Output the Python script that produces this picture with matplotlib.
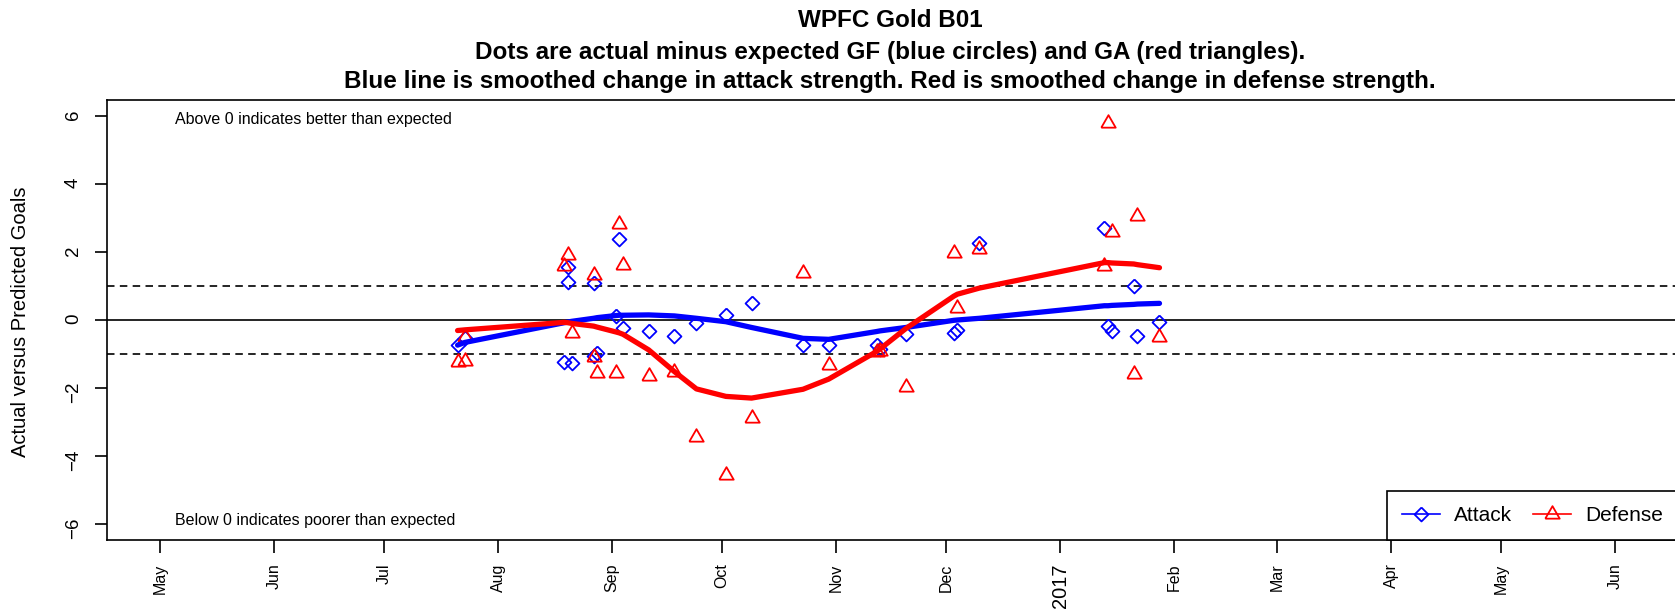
import datetime as dt

import matplotlib

matplotlib.use("Agg")
import matplotlib.dates as mdates
import matplotlib.pyplot as plt
from matplotlib.lines import Line2D

plt.rcParams["font.family"] = ["Liberation Sans", "DejaVu Sans"]

# ---- data ------------------------------------------------------------------
gf_dates = ["2016-07-21", "2016-07-23", "2016-08-19", "2016-08-20", "2016-08-20",
            "2016-08-21", "2016-08-27", "2016-08-27", "2016-08-28", "2016-09-02",
            "2016-09-03", "2016-09-04", "2016-09-11", "2016-09-18", "2016-09-24",
            "2016-10-02", "2016-10-09", "2016-10-23", "2016-10-30", "2016-11-12",
            "2016-11-13", "2016-11-20", "2016-12-03", "2016-12-04", "2016-12-10",
            "2017-01-13", "2017-01-14", "2017-01-15", "2017-01-21", "2017-01-22",
            "2017-01-28"]
gf_diff = [-0.75, -0.54, -1.25, 1.57, 1.13, -1.27, 1.10, -1.06, -0.96, 0.13,
           2.38, -0.25, -0.31, -0.46, -0.10, 0.15, 0.51, -0.75, -0.75, -0.74,
           -0.86, -0.42, -0.39, -0.29, 2.27, 2.71, -0.17, -0.31, 1.01, -0.46,
           -0.07]

ga_dates = ["2016-07-21", "2016-07-23", "2016-07-23", "2016-08-19", "2016-08-20",
            "2016-08-21", "2016-08-27", "2016-08-27", "2016-08-28", "2016-09-02",
            "2016-09-03", "2016-09-04", "2016-09-11", "2016-09-18", "2016-09-24",
            "2016-10-02", "2016-10-09", "2016-10-23", "2016-10-30", "2016-11-12",
            "2016-11-13", "2016-11-20", "2016-12-03", "2016-12-04", "2016-12-10",
            "2017-01-13", "2017-01-14", "2017-01-15", "2017-01-21", "2017-01-22",
            "2017-01-28"]
ga_diff = [-1.25, -1.21, -0.49, 1.60, 1.91, -0.37, 1.32, -1.08, -1.55, -1.57,
           2.84, 1.62, -1.64, -1.52, -3.46, -4.56, -2.89, 1.39, -1.34, -0.93,
           -0.90, -1.98, 1.98, 0.34, 2.08, 1.60, 5.80, 2.58, -1.59, 3.07,
           -0.49]

smooth_dates = ["2016-07-21", "2016-07-23", "2016-08-19", "2016-08-20", "2016-08-21",
                "2016-08-27", "2016-08-28", "2016-09-02", "2016-09-03", "2016-09-04",
                "2016-09-11", "2016-09-18", "2016-09-24", "2016-10-02", "2016-10-09",
                "2016-10-23", "2016-10-30", "2016-11-12", "2016-11-13", "2016-11-20",
                "2016-12-03", "2016-12-04", "2016-12-10", "2017-01-13", "2017-01-14",
                "2017-01-15", "2017-01-21", "2017-01-22", "2017-01-28"]
attack_smooth = [-0.74, -0.66, -0.08, -0.06, -0.04, 0.05, 0.07, 0.13, 0.14, 0.14,
                 0.15, 0.12, 0.05, -0.05, -0.22, -0.54, -0.57, -0.34, -0.32, -0.22,
                 -0.01, 0.00, 0.05, 0.42, 0.42, 0.43, 0.46, 0.47, 0.49]
defense_smooth = [-0.31, -0.29, -0.07, -0.08, -0.10, -0.18, -0.21, -0.35, -0.38, -0.42,
                  -0.88, -1.52, -2.03, -2.25, -2.30, -2.04, -1.74, -0.93, -0.85, -0.25,
                  0.70, 0.76, 0.94, 1.69, 1.69, 1.68, 1.65, 1.63, 1.54]

month_ticks = ["2016-05-01", "2016-06-01", "2016-07-01", "2016-08-01", "2016-09-01",
               "2016-10-01", "2016-11-01", "2016-12-01", "2017-01-01", "2017-02-01",
               "2017-03-01", "2017-04-01", "2017-05-01", "2017-06-01"]
month_labels = ["May", "Jun", "Jul", "Aug", "Sep", "Oct", "Nov", "Dec", "2017",
                "Feb", "Mar", "Apr", "May", "Jun"]
y_ticks = [-6, -4, -2, 0, 2, 4, 6]

title_lines = [
    "WPFC Gold B01",
    "Dots are actual minus expected GF (blue circles) and GA (red triangles).",
    "Blue line is smoothed change in attack strength. Red is smoothed change in defense strength.",
]


def _d(s):
    return dt.datetime.strptime(s, "%Y-%m-%d")


def _num(dates):
    return mdates.date2num([_d(s) for s in dates])


# R-style pch 5 / pch 2 outlines
diamond = [(0, 1), (1, 0), (0, -1), (-1, 0), (0, 1)]
triangle = [(-1, -0.577), (1, -0.577), (0, 1.155), (-1, -0.577)]

fig = plt.figure(figsize=(16.75, 6.16), dpi=100)
W, H = 1675, 616
# plot box runs just past the right edge of the picture, as in the original
ax = fig.add_axes([107 / W, 1 - 540 / H, (1678 - 107) / W, (540 - 100) / H])

x0, x1 = mdates.date2num(_d("2016-05-01")), mdates.date2num(_d("2017-06-01"))
ax.set_xlim(x0 - 14.4, x1 + 17.1)
ax.set_ylim(-6.48, 6.48)

ax.axhline(0, color="black", lw=1.2, zorder=1)
for yy in (1, -1):
    ax.axhline(yy, color="black", lw=1.2, ls=(0, (4.5, 3.2)), zorder=1)

ax.plot(_num(gf_dates), gf_diff, ls="none", marker=diamond, ms=10,
        mfc="none", mec="blue", mew=1.3, zorder=3)
ax.plot(_num(ga_dates), ga_diff, ls="none", marker=triangle, ms=12,
        mfc="none", mec="red", mew=1.3, zorder=3)
ax.plot(_num(smooth_dates), attack_smooth, color="blue", lw=3.8, zorder=4,
        solid_capstyle="round")
ax.plot(_num(smooth_dates), defense_smooth, color="red", lw=3.8, zorder=4,
        solid_capstyle="round")

ann_x = mdates.date2num(_d("2016-05-05"))
ax.text(ann_x, 5.9, "Above 0 indicates better than expected", fontsize=11.5,
        ha="left", va="center")
ax.text(ann_x, -5.9, "Below 0 indicates poorer than expected", fontsize=11.5,
        ha="left", va="center")

# axes / ticks
for sp in ax.spines.values():
    sp.set_linewidth(1.2)
ax.set_yticks(y_ticks)
ax.set_yticklabels([str(v).replace("-", "\u2212") for v in y_ticks])
ax.tick_params(axis="y", labelrotation=90, labelsize=13.5, length=9, width=1.2, pad=9)
ax.set_xticks(_num(month_ticks))
ax.set_xticklabels(month_labels, rotation=90, va="top", ha="center")
ax.tick_params(axis="x", length=9, width=1.2, pad=8, labelsize=11.5)
for lab in ax.get_xticklabels():
    if lab.get_text() == "2017":
        lab.set_fontsize(14.5)

fig.text(21 / W, 1 - 322 / H, "Actual versus Predicted Goals", rotation=90,
         fontsize=14.5, ha="center", va="center")

baselines = [27, 59, 88]
cx = (107 + 1673) / 2 / W
for line, b in zip(title_lines, baselines):
    fig.text(cx, 1 - b / H, line, fontsize=17.5, fontweight="bold",
             ha="center", va="baseline")

handles = [
    Line2D([], [], color="blue", lw=1.2, marker=diamond, ms=10, mfc="none", mew=1.3),
    Line2D([], [], color="red", lw=1.2, marker=triangle, ms=12, mfc="none", mew=1.3),
]
leg = ax.legend(handles, ["Attack", "Defense"], loc="lower right", ncol=2,
                fontsize=15, frameon=True, fancybox=False, borderaxespad=0,
                borderpad=0.72, handlelength=1.8, handletextpad=0.7,
                columnspacing=1.0)
leg.get_frame().set_edgecolor("black")
leg.get_frame().set_linewidth(1.2)
leg.get_frame().set_alpha(1)

fig.savefig("out.png", dpi=100)
